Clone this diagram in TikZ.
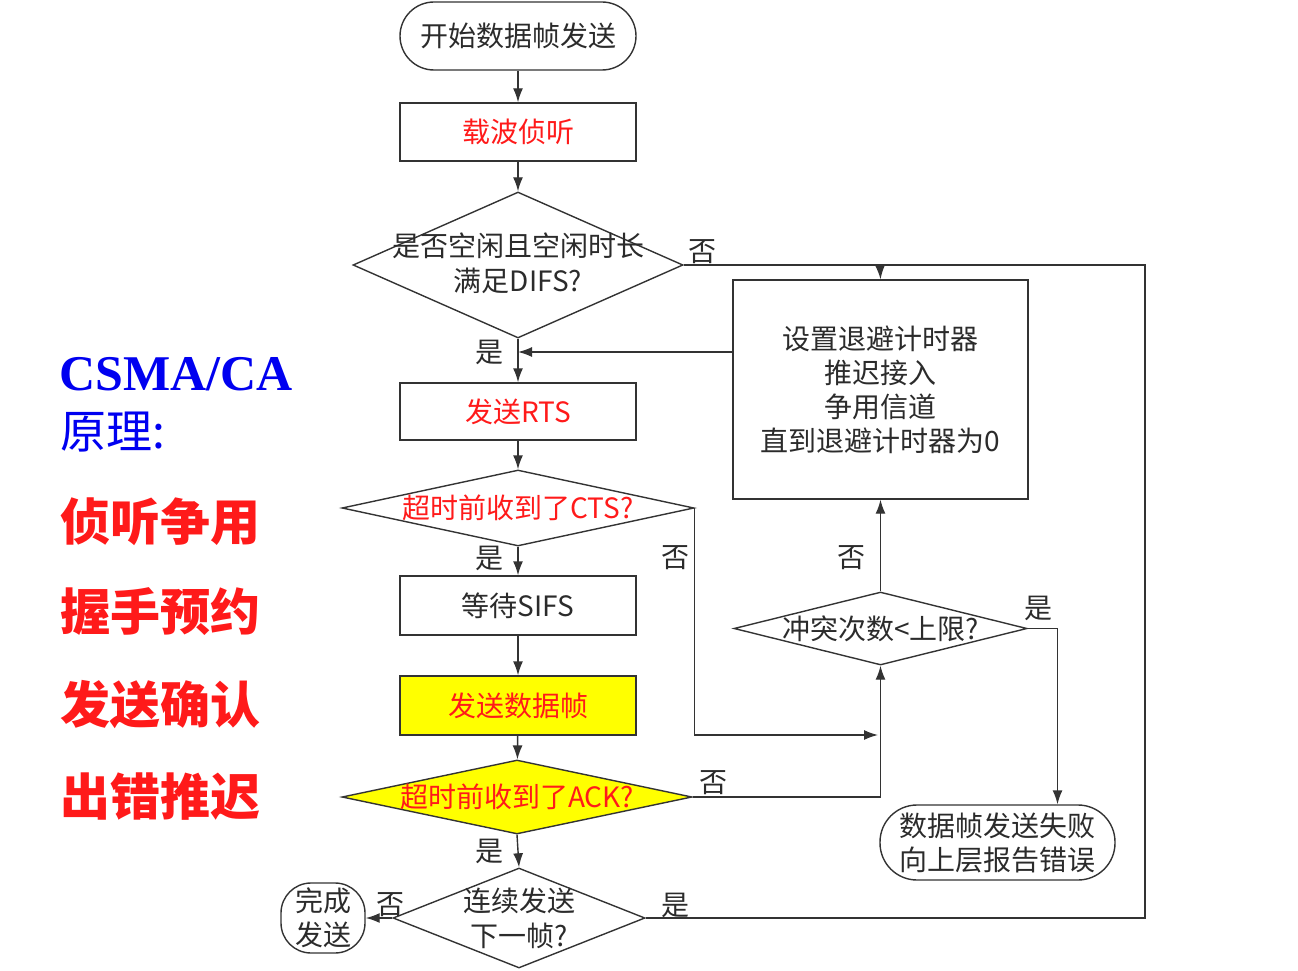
\documentclass[tikz,border=0pt]{standalone}
\usepackage{fontspec}
\setmainfont{Liberation Serif}
\newfontfamily\cjk{Noto Sans CJK SC}
\usetikzlibrary{shapes.geometric,arrows.meta}
\definecolor{lineg}{HTML}{333333}
\definecolor{txtg}{HTML}{2B2B2B}
\definecolor{hired}{HTML}{FF1A1A}
\definecolor{hiblue}{HTML}{0000F0}
\definecolor{hiyel}{HTML}{FFFF00}

\begin{document}
\begin{tikzpicture}[x=1pt,y=-1pt,
    box/.style={draw=lineg, line width=1.4pt, minimum width=236pt, minimum height=58pt,
        inner sep=0pt, align=center, text=txtg, font=\cjk\fontsize{28}{34}\selectfont},
    term/.style={box, rounded corners=34pt, minimum height=68pt},
    dia/.style={draw=lineg, line width=1.4pt, diamond, inner sep=0pt},
    txt/.style={inner sep=0pt, align=center, text=txtg, font=\cjk\fontsize{28}{35}\selectfont},
    arr/.style={draw=lineg, line width=1.4pt, -{Latex[length=14pt,width=10pt]}},
    ln/.style={draw=lineg, line width=1.4pt},
    side/.style={anchor=west, inner sep=0pt, text=hired, font=\cjk\bfseries\fontsize{50}{50}\selectfont}]
    \useasboundingbox (0,0) rectangle (1298,971);

    % left column
    \node[anchor=base west, inner sep=0pt, text=hiblue, font=\bfseries\fontsize{50}{50}\selectfont] (title) at (59,390) {CSMA/CA};
    \node[anchor=west, inner sep=0pt, text=hiblue, font=\cjk\fontsize{46}{46}\selectfont] (subtitle) at (60,432) {原理:};
    \node[side] (s1) at (60,522) {侦听争用};
    \node[side] (s2) at (60,612) {握手预约};
    \node[side] (s3) at (60,705) {发送确认};
    \node[side] (s4) at (60,797) {出错推迟};

    % main column
    \node[term] (start) at (518,36) {开始数据帧发送};
    \node[box, text=hired] (listen) at (518,132) {载波侦听};
    \node[dia, minimum width=330pt, minimum height=146pt] (d1) at (518,265) {};
    \node[txt] (d1t) at (518,263) {是否空闲且空闲时长\\满足DIFS?};
    \node[box, text=hired, minimum height=57pt] (rts) at (518,411.5) {发送RTS};
    \node[dia, minimum width=352pt, minimum height=76pt] (d2) at (518,508) {};
    \node[txt, text=hired] (d2t) at (d2) {超时前收到了CTS?};
    \node[box, minimum height=59pt] (sifs) at (518,605.5) {等待SIFS};
    \node[box, fill=hiyel, text=hired, minimum height=59pt] (data) at (518,705.5) {发送数据帧};
    \node[dia, fill=hiyel, minimum width=350pt, minimum height=74pt] (d3) at (517,797) {};
    \node[txt, text=hired] (d3t) at (d3) {超时前收到了ACK?};
    \node[dia, minimum width=252pt, minimum height=100pt] (d5) at (519,918) {};
    \node[txt] (d5t) at (519,918) {连续发送\\下一帧?};
    \node[term, minimum width=84pt, minimum height=70pt, rounded corners=30pt] (done) at (323,918) {完成\\发送};

    % right column
    \node[box, minimum width=295pt, minimum height=219pt] (backoff) at (880.5,389.5) {设置退避计时器\\推迟接入\\争用信道\\直到退避计时器为0};
    \node[dia, minimum width=293pt, minimum height=73pt] (d4) at (880.5,628.5) {};
    \node[txt] (d4t) at (d4) {冲突次数<上限?};
    \node[term, minimum width=235pt, minimum height=75pt, rounded corners=37pt] (fail) at (997.5,842.5) {数据帧发送失败\\向上层报告错误};

    \coordinate (top) at (880,265);
    \coordinate (far) at (1145,265);
    \coordinate (join) at (518,352);
    \coordinate (ctsno) at (878,735);

    % connectors
    \draw[arr] (start) -- (listen);
    \draw[arr] (listen) -- (d1);
    \draw[arr] (d1.south) -- (rts.north);
    \draw[ln] (d1.east) -- (top);
    \draw[arr] (top) -- (backoff.north);
    \draw[arr] (backoff.west |- join) -- (join);
    \draw[arr] (rts) -- (d2);
    \draw[arr] (d2.south) -- (sifs.north);
    \draw[arr] (d2.east) |- (ctsno);
    \draw[arr] (sifs) -- (data);
    \draw[arr] (data) -- (d3);
    \draw[arr] (d3.south) -- (d5.north);
    \draw[arr] (d3.east) -| (d4.south);
    \draw[arr] (d4.north) -- (backoff.south);
    \draw[arr] (d4.east) -| ([xshift=60pt]fail.north);
    \draw[arr] (d5.west) -- (done.east);
    \draw[ln] (d5.east) -| (far) -- (top);

    % branch labels
    \node[txt] (y1) at (489,352) {是};
    \node[txt] (y2) at (489,558) {是};
    \node[txt] (y3) at (489,851) {是};
    \node[txt] (y4) at (1038,608) {是};
    \node[txt] (y5) at (675,905) {是};
    \node[txt] (n1) at (702,252) {否};
    \node[txt] (n2) at (675,558) {否};
    \node[txt] (n3) at (851,558) {否};
    \node[txt] (n4) at (713,783) {否};
    \node[txt] (n5) at (390,905) {否};
\end{tikzpicture}
\end{document}
